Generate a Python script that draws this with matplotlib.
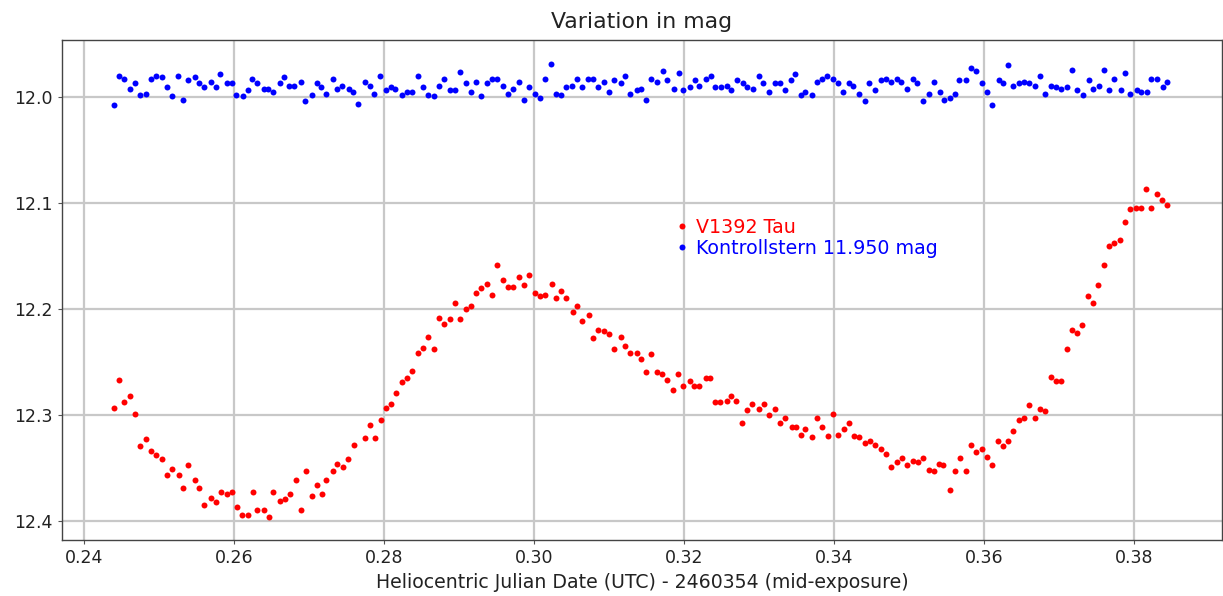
import matplotlib
matplotlib.use("Agg")
import matplotlib.pyplot as plt

# ---- data ----
target_hjd = [
    0.24400, 0.24471, 0.24533, 0.24617, 0.24680, 0.24747, 0.24831, 0.24893, 0.24964, 0.25044,
    0.25111, 0.25173, 0.25263, 0.25324, 0.25391, 0.25476, 0.25537, 0.25604, 0.25693, 0.25756,
    0.25823, 0.25907, 0.25973, 0.26036, 0.26111, 0.26187, 0.26249, 0.26311, 0.26396, 0.26463,
    0.26524, 0.26613, 0.26680, 0.26743, 0.26827, 0.26889, 0.26956, 0.27040, 0.27103, 0.27169,
    0.27231, 0.27316, 0.27377, 0.27447, 0.27520, 0.27596, 0.27747, 0.27813, 0.27876, 0.27960,
    0.28027, 0.28089, 0.28156, 0.28240, 0.28307, 0.28369, 0.28453, 0.28520, 0.28583, 0.28671,
    0.28733, 0.28800, 0.28884, 0.28947, 0.29013, 0.29097, 0.29164, 0.29227, 0.29293, 0.29377,
    0.29440, 0.29507, 0.29591, 0.29653, 0.29720, 0.29804, 0.29871, 0.29933, 0.30017, 0.30084,
    0.30147, 0.30236, 0.30297, 0.30364, 0.30427, 0.30516, 0.30577, 0.30640, 0.30729, 0.30791,
    0.30853, 0.30937, 0.31004, 0.31067, 0.31156, 0.31217, 0.31280, 0.31369, 0.31431, 0.31493,
    0.31560, 0.31644, 0.31711, 0.31773, 0.31857, 0.31924, 0.31991, 0.32076, 0.32137, 0.32204,
    0.32289, 0.32351, 0.32417, 0.32480, 0.32569, 0.32631, 0.32693, 0.32767, 0.32844, 0.32911,
    0.32996, 0.33063, 0.33133, 0.33213, 0.33280, 0.33353, 0.33436, 0.33493, 0.33556, 0.33617,
    0.33707, 0.33773, 0.33836, 0.33920, 0.33987, 0.34049, 0.34133, 0.34200, 0.34263, 0.34329,
    0.34413, 0.34476, 0.34543, 0.34627, 0.34689, 0.34756, 0.34840, 0.34903, 0.34969, 0.35053,
    0.35116, 0.35183, 0.35267, 0.35329, 0.35396, 0.35457, 0.35547, 0.35609, 0.35676, 0.35760,
    0.35823, 0.35889, 0.35973, 0.36036, 0.36103, 0.36187, 0.36257, 0.36320, 0.36383, 0.36471,
    0.36533, 0.36596, 0.36684, 0.36747, 0.36809, 0.36897, 0.36960, 0.37023, 0.37111, 0.37173,
    0.37236, 0.37303, 0.37387, 0.37457, 0.37516, 0.37600, 0.37667, 0.37729, 0.37813, 0.37880,
    0.37943, 0.38027, 0.38093, 0.38156, 0.38223, 0.38307, 0.38373, 0.38436,
]
target_mag = [
    12.293, 12.267, 12.288, 12.282, 12.299, 12.329, 12.323, 12.334, 12.338, 12.342,
    12.357, 12.351, 12.357, 12.369, 12.347, 12.361, 12.369, 12.385, 12.378, 12.382,
    12.373, 12.375, 12.373, 12.387, 12.394, 12.394, 12.373, 12.390, 12.390, 12.396,
    12.373, 12.381, 12.379, 12.375, 12.361, 12.390, 12.353, 12.376, 12.366, 12.375,
    12.361, 12.353, 12.346, 12.349, 12.342, 12.328, 12.322, 12.309, 12.322, 12.305,
    12.293, 12.290, 12.279, 12.269, 12.265, 12.258, 12.241, 12.237, 12.226, 12.238,
    12.208, 12.214, 12.209, 12.194, 12.209, 12.200, 12.197, 12.185, 12.180, 12.176,
    12.187, 12.158, 12.173, 12.179, 12.179, 12.170, 12.177, 12.168, 12.185, 12.188,
    12.187, 12.176, 12.190, 12.183, 12.190, 12.203, 12.197, 12.211, 12.206, 12.227,
    12.220, 12.221, 12.224, 12.238, 12.226, 12.235, 12.241, 12.241, 12.247, 12.259,
    12.242, 12.259, 12.261, 12.267, 12.276, 12.261, 12.273, 12.268, 12.273, 12.273,
    12.265, 12.265, 12.288, 12.288, 12.287, 12.282, 12.287, 12.308, 12.295, 12.290,
    12.294, 12.290, 12.300, 12.294, 12.308, 12.303, 12.311, 12.311, 12.319, 12.313,
    12.321, 12.303, 12.311, 12.320, 12.299, 12.319, 12.313, 12.308, 12.320, 12.321,
    12.326, 12.325, 12.328, 12.332, 12.337, 12.349, 12.344, 12.341, 12.347, 12.343,
    12.344, 12.341, 12.352, 12.353, 12.346, 12.347, 12.371, 12.353, 12.341, 12.353,
    12.328, 12.335, 12.332, 12.340, 12.347, 12.325, 12.329, 12.325, 12.315, 12.305,
    12.303, 12.291, 12.303, 12.294, 12.296, 12.264, 12.268, 12.268, 12.238, 12.220,
    12.223, 12.215, 12.188, 12.194, 12.177, 12.158, 12.140, 12.138, 12.135, 12.118,
    12.106, 12.105, 12.105, 12.087, 12.105, 12.091, 12.097, 12.102,
]

check_hjd = [
    0.24400, 0.24467, 0.24533, 0.24617, 0.24680, 0.24747, 0.24831, 0.24893, 0.24960, 0.25044,
    0.25111, 0.25173, 0.25257, 0.25324, 0.25391, 0.25476, 0.25537, 0.25604, 0.25689, 0.25756,
    0.25817, 0.25903, 0.25969, 0.26031, 0.26116, 0.26183, 0.26244, 0.26311, 0.26396, 0.26457,
    0.26524, 0.26609, 0.26671, 0.26737, 0.26804, 0.26889, 0.26951, 0.27040, 0.27103, 0.27164,
    0.27231, 0.27316, 0.27377, 0.27444, 0.27529, 0.27591, 0.27657, 0.27743, 0.27809, 0.27871,
    0.27953, 0.28027, 0.28089, 0.28151, 0.28240, 0.28307, 0.28369, 0.28453, 0.28520, 0.28583,
    0.28671, 0.28733, 0.28800, 0.28884, 0.28947, 0.29013, 0.29097, 0.29160, 0.29227, 0.29293,
    0.29377, 0.29440, 0.29507, 0.29591, 0.29653, 0.29720, 0.29804, 0.29867, 0.29933, 0.30017,
    0.30084, 0.30147, 0.30231, 0.30297, 0.30360, 0.30427, 0.30511, 0.30577, 0.30640, 0.30724,
    0.30791, 0.30853, 0.30937, 0.31004, 0.31067, 0.31156, 0.31217, 0.31284, 0.31369, 0.31431,
    0.31497, 0.31560, 0.31644, 0.31716, 0.31777, 0.31867, 0.31929, 0.31991, 0.32080, 0.32143,
    0.32204, 0.32293, 0.32356, 0.32417, 0.32489, 0.32569, 0.32631, 0.32703, 0.32783, 0.32844,
    0.32916, 0.32996, 0.33057, 0.33129, 0.33209, 0.33280, 0.33343, 0.33423, 0.33484, 0.33556,
    0.33617, 0.33707, 0.33769, 0.33840, 0.33911, 0.33983, 0.34053, 0.34124, 0.34196, 0.34257,
    0.34329, 0.34409, 0.34471, 0.34543, 0.34623, 0.34693, 0.34756, 0.34836, 0.34897, 0.34969,
    0.35049, 0.35111, 0.35191, 0.35271, 0.35333, 0.35413, 0.35467, 0.35547, 0.35617, 0.35671,
    0.35760, 0.35831, 0.35893, 0.35973, 0.36044, 0.36107, 0.36196, 0.36257, 0.36320, 0.36383,
    0.36463, 0.36533, 0.36604, 0.36684, 0.36747, 0.36817, 0.36897, 0.36960, 0.37031, 0.37111,
    0.37173, 0.37244, 0.37316, 0.37396, 0.37457, 0.37529, 0.37600, 0.37671, 0.37733, 0.37823,
    0.37884, 0.37947, 0.38036, 0.38097, 0.38169, 0.38231, 0.38311, 0.38383, 0.38444,
]
check_mag = [
    12.007, 11.980, 11.983, 11.992, 11.987, 11.998, 11.997, 11.983, 11.980, 11.981,
    11.990, 11.999, 11.980, 12.003, 11.984, 11.981, 11.987, 11.990, 11.986, 11.990,
    11.978, 11.987, 11.987, 11.998, 11.999, 11.993, 11.983, 11.987, 11.992, 11.992,
    11.995, 11.987, 11.981, 11.989, 11.989, 11.986, 12.004, 11.998, 11.987, 11.990,
    11.997, 11.983, 11.992, 11.989, 11.992, 11.995, 12.006, 11.986, 11.989, 11.997,
    11.980, 11.993, 11.990, 11.992, 11.998, 11.995, 11.995, 11.980, 11.990, 11.998,
    11.999, 11.989, 11.983, 11.993, 11.993, 11.976, 11.987, 11.995, 11.986, 11.999,
    11.987, 11.983, 11.983, 11.989, 11.997, 11.992, 11.986, 12.003, 11.990, 11.997,
    12.001, 11.983, 11.969, 11.997, 11.998, 11.990, 11.989, 11.983, 11.990, 11.983,
    11.983, 11.990, 11.986, 11.995, 11.984, 11.987, 11.980, 11.997, 11.993, 11.992,
    12.003, 11.983, 11.986, 11.975, 11.984, 11.992, 11.977, 11.993, 11.990, 11.984,
    11.989, 11.983, 11.980, 11.990, 11.990, 11.989, 11.993, 11.984, 11.987, 11.990,
    11.992, 11.980, 11.987, 11.995, 11.987, 11.987, 11.993, 11.984, 11.978, 11.998,
    11.995, 11.998, 11.986, 11.983, 11.980, 11.983, 11.987, 11.995, 11.987, 11.989,
    11.997, 12.004, 11.987, 11.993, 11.984, 11.983, 11.986, 11.983, 11.986, 11.992,
    11.983, 11.987, 12.004, 11.997, 11.986, 11.995, 12.003, 12.001, 11.997, 11.984,
    11.984, 11.972, 11.975, 11.987, 11.995, 12.007, 11.984, 11.987, 11.970, 11.989,
    11.987, 11.986, 11.987, 11.989, 11.980, 11.997, 11.989, 11.990, 11.992, 11.990,
    11.974, 11.993, 11.998, 11.984, 11.992, 11.989, 11.974, 11.993, 11.983, 11.993,
    11.977, 11.997, 11.993, 11.995, 11.995, 11.983, 11.983, 11.990, 11.986,
]

x_ticks = [0.24, 0.26, 0.28, 0.30, 0.32, 0.34, 0.36, 0.38]
x_tick_labels = ["0.24", "0.26", "0.28", "0.30", "0.32", "0.34", "0.36", "0.38"]
y_ticks = [12.0, 12.1, 12.2, 12.3, 12.4]
y_tick_labels = ["12.0", "12.1", "12.2", "12.3", "12.4"]

series_labels = ["V1392 Tau", "Kontrollstern 11.950 mag"]
series_colors = ["#ff0000", "#0000ff"]

# ---- figure ----
W, H = 1223, 596
fig = plt.figure(figsize=(W / 100, H / 100), dpi=100)
ax = fig.add_axes([62 / W, 1 - 540 / H, (1222 - 62) / W, (540 - 40) / H])

ax.plot(target_hjd, target_mag, linestyle="none", marker="o", ms=4.3,
        mec="none", color=series_colors[0], label=series_labels[0], zorder=3)
ax.plot(check_hjd, check_mag, linestyle="none", marker="o", ms=4.3,
        mec="none", color=series_colors[1], label=series_labels[1], zorder=3)

ax.set_xlim(0.23707, 0.39173)
ax.set_ylim(12.418, 11.946)
ax.set_xticks(x_ticks)
ax.set_xticklabels(x_tick_labels)
ax.set_yticks(y_ticks)
ax.set_yticklabels(y_tick_labels)
ax.grid(True, color="#c8c8c8", linewidth=1.6, zorder=0)
ax.set_axisbelow(True)
ax.tick_params(axis="both", labelsize=12.5, length=3, color="#555555", labelcolor="#222222")
for s in ax.spines.values():
    s.set_color("#444444")
    s.set_linewidth(1.0)

fig.text(0.5 * (62 + 1222) / W, 1 - 22 / H, "Variation in mag", ha="center", va="center",
         fontsize=15.8, color="#222222")
ax.set_xlabel("Heliocentric Julian Date (UTC) - 2460354 (mid-exposure)", fontsize=13.6,
              color="#222222", labelpad=4)

leg = ax.legend(loc="upper left", bbox_to_anchor=(676 / W, 1 - 218 / H),
                bbox_transform=fig.transFigure, frameon=False, fontsize=13.7,
                handlelength=0.6, handletextpad=0.45, labelspacing=0.1,
                borderpad=0, borderaxespad=0, markerscale=1.0, labelcolor="linecolor")

fig.savefig("out.png", dpi=100)
